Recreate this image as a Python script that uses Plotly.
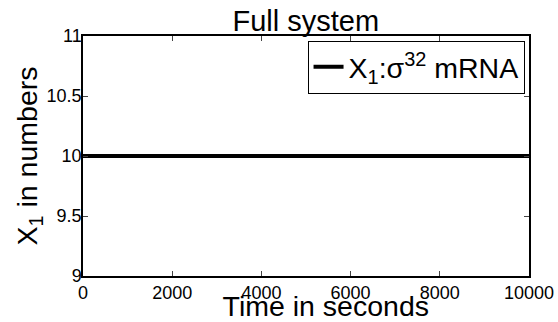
import plotly.graph_objects as go

time_s = [0, 1000, 2000, 3000, 4000, 5000, 6000, 7000, 8000, 9000, 10000]
x1_numbers = [10, 10, 10, 10, 10, 10, 10, 10, 10, 10, 10]
x_ticks = [0, 2000, 4000, 6000, 8000, 10000]
x_tick_labels = ["0", "2000", "4000", "6000", "8000", "10000"]
y_ticks = [9, 9.5, 10, 10.5, 11]
y_tick_labels = ["9", "9.5", "10", "10.5", "11"]

font = "Liberation Sans, Arial, sans-serif"

fig = go.Figure()
fig.add_trace(go.Scatter(
    x=time_s, y=x1_numbers, mode="lines",
    line=dict(color="black", width=4),
    name="X<sub>1</sub>:σ<sup>32</sup> mRNA",
))

fig.update_layout(
    width=558, height=322,
    margin=dict(l=83, r=29, t=36, b=46),
    paper_bgcolor="white", plot_bgcolor="white",
    font=dict(family=font, color="black", size=18),
    title=dict(text="Full system", x=0.548, xanchor="center", y=0.935, yanchor="middle",
               font=dict(size=29, family=font, color="black")),
    showlegend=True,
    legend=dict(x=0.99, xanchor="right", y=0.98, yanchor="top",
                bordercolor="black", borderwidth=1, bgcolor="white",
                font=dict(size=28.5, family=font, color="black"),
                itemwidth=30, tracegroupgap=0),
)
fig.update_xaxes(
    range=[0, 10000], tickvals=x_ticks, ticktext=x_tick_labels, ticks="inside", ticklen=5,
    showline=True, linecolor="black", linewidth=1.5, mirror="ticks",
    showgrid=False, zeroline=False, automargin=False,
    tickfont=dict(size=18, family=font, color="black"),
    title=dict(text="&nbsp;&nbsp;&nbsp;&nbsp;&nbsp;Time in seconds",
               font=dict(size=28.5, family=font, color="black"), standoff=0),
)
fig.update_yaxes(
    range=[9, 11], tickvals=y_ticks, ticktext=y_tick_labels, ticks="inside", ticklen=5,
    showline=True, linecolor="black", linewidth=1.5, mirror="ticks",
    showgrid=False, zeroline=False, automargin=False, ticklabelstandoff=-4,
    tickfont=dict(size=18, family=font, color="black"),
    title=dict(text="X<sub>1</sub> in numbers", font=dict(size=28.5, family=font, color="black"), standoff=0),
)

fig.write_html("out.html", config={"displayModeBar": False},
               post_script="document.body.style.margin='0';")
